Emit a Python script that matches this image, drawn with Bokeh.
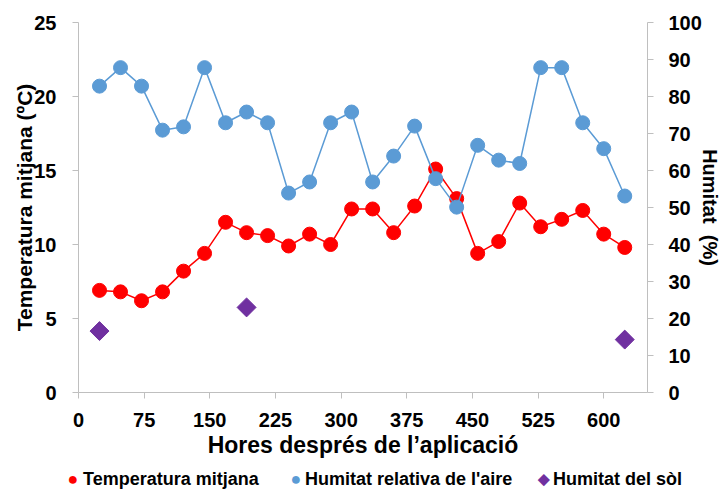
import math
from html import escape
from bokeh.plotting import figure
from bokeh.layouts import column
from bokeh.models import (Range1d, LinearAxis, FixedTicker, ColumnDataSource, Div)
from bokeh.embed import file_html
from bokeh.resources import INLINE

# ---- data ----
hours = [24, 48, 72, 96, 120, 144, 168, 192, 216, 240, 264, 288, 312,
         336, 360, 384, 408, 432, 456, 480, 504, 528, 552, 576, 600, 624]
temp_mean = [6.9, 6.8, 6.2, 6.8, 8.2, 9.4, 11.5, 10.8, 10.6, 9.9, 10.7, 10.0, 12.4,
             12.4, 10.8, 12.6, 15.1, 13.1, 9.4, 10.2, 12.8, 11.2, 11.7, 12.3, 10.7, 9.8]
hum_air = [82.8, 87.8, 82.8, 70.9, 71.8, 87.8, 72.9, 75.8, 72.9, 53.9, 56.9, 72.9, 75.8,
           56.9, 63.9, 72.0, 57.8, 50.1, 66.8, 62.8, 61.9, 87.8, 87.8, 72.9, 65.9, 53.1]
soil_hours = [24, 192, 624]
hum_soil = [16.6, 23.0, 14.3]

x_ticks = [0, 75, 150, 225, 300, 375, 450, 525, 600]
y_left_ticks = [0, 5, 10, 15, 20, 25]
y_right_ticks = [0, 10, 20, 30, 40, 50, 60, 70, 80, 90, 100]

labels = ["Temperatura mitjana", "Humitat relativa de l'aire", "Humitat del sòl"]

FONT = "Liberation Sans"
AXIS_GRAY = "#BFBFBF"
RED = "#FF0000"
BLUE = "#5B9BD5"
PURPLE = "#7030A0"

p = figure(frame_width=569, frame_height=370, output_backend="svg",
           toolbar_location=None,
           x_range=Range1d(0, 650), y_range=Range1d(0, 25),
           min_border_left=78, min_border_right=73, min_border_top=22,
           min_border_bottom=72)
p.extra_y_ranges = {"hum": Range1d(0, 100)}
p.xgrid.visible = False
p.ygrid.visible = False
p.outline_line_color = None
p.background_fill_color = "white"
p.border_fill_color = "white"


def style(ax, label, label_size, tick_standoff, label_standoff):
    ax.axis_label = label
    ax.axis_label_text_font = FONT
    ax.axis_label_text_font_style = "bold"
    ax.axis_label_text_font_size = label_size
    ax.axis_label_text_color = "black"
    ax.axis_label_standoff = label_standoff
    ax.major_label_text_font = FONT
    ax.major_label_text_font_style = "bold"
    ax.major_label_text_font_size = "20px"
    ax.major_label_text_color = "black"
    ax.major_label_standoff = tick_standoff
    ax.axis_line_color = AXIS_GRAY
    ax.axis_line_width = 1
    ax.major_tick_line_color = AXIS_GRAY
    ax.major_tick_out = 6
    ax.major_tick_in = 0
    ax.minor_tick_line_color = None


xax = p.xaxis[0]
xax.ticker = FixedTicker(ticks=x_ticks)
style(xax, "Hores després de l\u2019aplicació", "23px", 14, 2)

yax = p.yaxis[0]
yax.ticker = FixedTicker(ticks=y_left_ticks)
style(yax, "Temperatura mitjana (ºC)", "21px", 16, -5)

rax = LinearAxis(y_range_name="hum", ticker=FixedTicker(ticks=y_right_ticks))
style(rax, "Humitat \u00a0(%)", "20px", 15, -6)
p.add_layout(rax, "right")

# temperature series (left axis)
src_t = ColumnDataSource(dict(x=hours, y=temp_mean))
p.line("x", "y", source=src_t, line_color=RED, line_width=1.5)
p.scatter("x", "y", source=src_t, marker="circle", size=14,
          fill_color=RED, line_color=RED)

# air humidity (right axis)
src_h = ColumnDataSource(dict(x=hours, y=hum_air))
p.line("x", "y", source=src_h, y_range_name="hum", line_color=BLUE, line_width=1.5)
p.scatter("x", "y", source=src_h, y_range_name="hum", marker="circle", size=14,
          fill_color=BLUE, line_color=BLUE)

# soil humidity (right axis)
src_s = ColumnDataSource(dict(x=soil_hours, y=hum_soil))
p.scatter("x", "y", source=src_s, y_range_name="hum", marker="square", size=13.4,
          angle=math.pi / 4, fill_color=PURPLE, line_color=PURPLE)

# ---- legend strip below the chart (HTML text with coloured symbols) ----
leg_symbols = ["\u25CF", "\u25CF", "\u25C6"]
leg_colors = [RED, BLUE, PURPLE]
leg_symbol_px = [18, 18, 15]
leg_symbol_cx = [73, 296, 544]
leg_text_x = [83, 305, 553]

parts = []
for lab, sym, col, spx, cx, tx in zip(labels, leg_symbols, leg_colors,
                                       leg_symbol_px, leg_symbol_cx, leg_text_x):
    parts.append(
        '<span style="position:absolute;left:%dpx;top:2px;width:20px;height:26px;'
        'line-height:26px;text-align:center;color:%s;font-size:%dpx;">%s</span>'
        % (cx - 10, col, spx, sym))
    parts.append(
        '<span style="position:absolute;left:%dpx;top:2px;height:26px;'
        'line-height:26px;">%s</span>' % (tx, escape(lab, quote=False)))

legend_html = ('<div style="position:relative;width:720px;height:26px;'
               "font-family:'Liberation Sans', Arial, sans-serif;font-weight:bold;"
               'font-size:18px;color:#000;white-space:nowrap;">'
               + "".join(parts) + "</div>")
legend_div = Div(text=legend_html, width=720, height=26, margin=0)

layout = column(p, legend_div, spacing=0)

open("out.html", "w").write(file_html(layout, INLINE))
